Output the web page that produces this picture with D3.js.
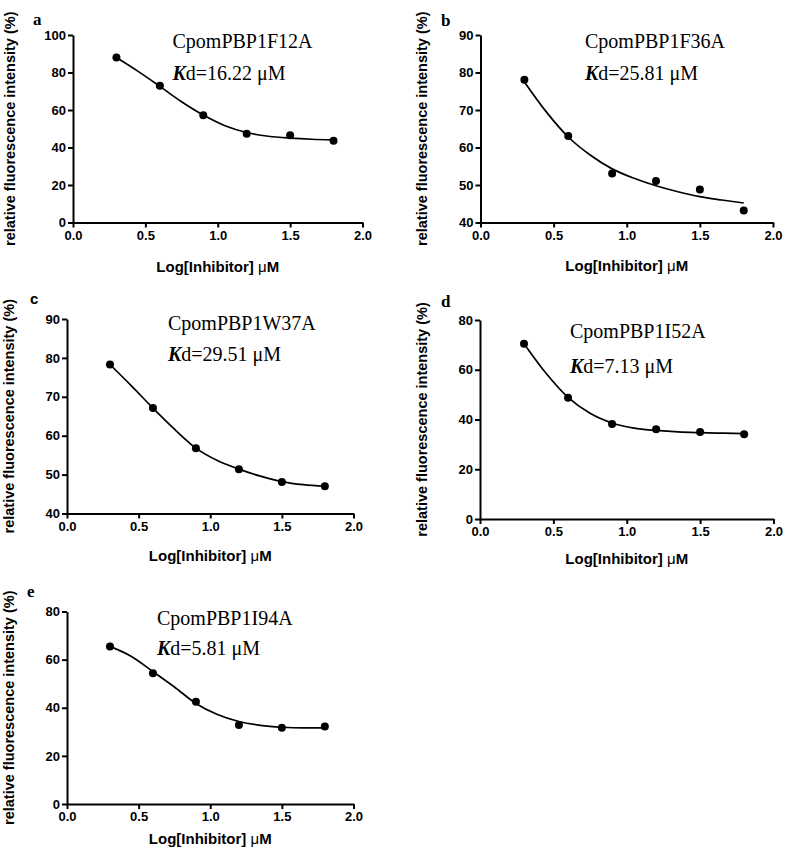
<!DOCTYPE html>
<html>
<head>
<meta charset="utf-8">
<script src="https://cdn.jsdelivr.net/npm/d3@7"></script>
<style>
  html, body { margin: 0; padding: 0; background: #fff; }
  svg { display: block; }
</style>
</head>
<body>
<script>
// ---------------- data ----------------
const doses = [0.3, 0.6, 0.9, 1.2, 1.5, 1.8];
const valuesA = [88.0, 73.0, 57.2, 47.4, 46.5, 43.6];
const valuesB = [78.1, 63.1, 53.1, 51.1, 48.8, 43.2];
const valuesC = [78.3, 67.1, 56.8, 51.4, 48.1, 47.0];
const valuesD = [70.5, 48.7, 38.2, 36.1, 35.0, 34.1];
const valuesE = [65.5, 54.3, 42.5, 32.8, 31.7, 32.2];

// fitted curves
const curveX = [0.3, 0.45, 0.6, 0.75, 0.9, 1.05, 1.2, 1.35, 1.5, 1.65, 1.8];
const curveA = [88.0, 80.6, 72.6, 64.4, 57.3, 51.6, 48.0, 46.0, 45.0, 44.4, 44.1];
const curveB = [77.5, 69.5, 62.8, 58.0, 54.3, 51.8, 49.8, 48.2, 46.9, 46.0, 45.2];
const curveC = [78.3, 72.8, 67.1, 61.7, 56.8, 53.6, 51.4, 49.6, 48.2, 47.4, 47.0];
const curveD = [70.5, 58.6, 48.9, 42.5, 38.6, 36.5, 35.6, 35.0, 34.7, 34.5, 34.3];
const curveE = [65.5, 61.3, 55.0, 48.6, 41.8, 37.2, 34.3, 32.7, 31.9, 31.6, 31.6];

const titles = ["CpomPBP1F12A", "CpomPBP1F36A", "CpomPBP1W37A", "CpomPBP1I52A", "CpomPBP1I94A"];
const kdValues = ["16.22", "25.81", "29.51", "7.13", "5.81"];
const panelLetters = ["a", "b", "c", "d", "e"];
const yDomains = [[0, 100], [40, 90], [40, 90], [0, 80], [0, 80]];
const yTickValues = [
  [0, 20, 40, 60, 80, 100],
  [40, 50, 60, 70, 80, 90],
  [40, 50, 60, 70, 80, 90],
  [0, 20, 40, 60, 80],
  [0, 20, 40, 60, 80]
];
const xTickValues = [0.0, 0.5, 1.0, 1.5, 2.0];
const xLabel = "Log[Inhibitor] ";
const yLabel = "relative fluorescence intensity (%)";

const seriesValues = [valuesA, valuesB, valuesC, valuesD, valuesE];
const seriesCurves = [curveA, curveB, curveC, curveD, curveE];

// ---------------- layout ----------------
const layout = [
  { x0: 73,    x1: 362.5, yTop: 35,    yBot: 222.5, xlabOff: 49, title: [172.5, 48],  kd: [172.5, 80],  letter: [33, 25],   letterFont: "serif-bold", ylab: 15 },
  { x0: 480.5, x1: 773,   yTop: 35,    yBot: 222.5, xlabOff: 48, title: [585, 48],    kd: [585, 80],    letter: [441, 26],  letterFont: "serif-bold", ylab: 427 },
  { x0: 67,    x1: 353.5, yTop: 319,   yBot: 513.5, xlabOff: 47, title: [168, 330],   kd: [168, 361],   letter: [30, 304],  letterFont: "sans-bold",  ylab: 14 },
  { x0: 480,   x1: 773.5, yTop: 320,   yBot: 519,   xlabOff: 45, title: [570, 338],   kd: [570, 373],   letter: [441, 307], letterFont: "serif-bold", ylab: 427 },
  { x0: 67,    x1: 353.5, yTop: 611.5, yBot: 804,   xlabOff: 40, title: [157, 625],   kd: [157, 655],   letter: [27, 597],  letterFont: "serif-bold", ylab: 14 }
];

const SANS = "'Liberation Sans', Arial, Helvetica, sans-serif";
const SERIF = "'Liberation Serif', 'Times New Roman', Times, serif";

const svg = d3.select("body").append("svg")
  .attr("width", 787).attr("height", 853)
  .attr("viewBox", "0 0 787 853");
svg.append("rect").attr("width", 787).attr("height", 853).attr("fill", "#fff");

layout.forEach((L, i) => {
  const g = svg.append("g");
  const x = d3.scaleLinear().domain([0, 2]).range([L.x0, L.x1]);
  const y = d3.scaleLinear().domain(yDomains[i]).range([L.yBot, L.yTop]);

  // x axis
  const xAxis = d3.axisBottom(x).tickValues(xTickValues).tickFormat(d3.format(".1f"))
    .tickSizeInner(5).tickSizeOuter(0).tickPadding(3);
  const gx = g.append("g").attr("transform", `translate(0,${L.yBot})`).call(xAxis);
  // y axis
  const yAxis = d3.axisLeft(y).tickValues(yTickValues[i]).tickFormat(d3.format("d"))
    .tickSizeInner(5).tickSizeOuter(0).tickPadding(2);
  const gy = g.append("g").attr("transform", `translate(${L.x0},0)`).call(yAxis);

  [gx, gy].forEach(a => {
    a.select(".domain").attr("stroke", "#000").attr("stroke-width", 2);
    a.selectAll(".tick line").attr("stroke", "#000").attr("stroke-width", 2);
    a.selectAll(".tick text").attr("fill", "#000")
      .style("font-family", SANS).style("font-weight", "bold").style("font-size", "13px");
  });

  // fitted curve
  const line = d3.line().x(d => x(d[0])).y(d => y(d[1])).curve(d3.curveMonotoneX);
  g.append("path")
    .datum(curveX.map((cx, k) => [cx, seriesCurves[i][k]]))
    .attr("d", line).attr("fill", "none").attr("stroke", "#000").attr("stroke-width", 1.7);

  // points
  g.selectAll("circle.pt").data(doses.map((d, k) => [d, seriesValues[i][k]]))
    .enter().append("circle").attr("class", "pt")
    .attr("cx", d => x(d[0])).attr("cy", d => y(d[1])).attr("r", 4).attr("fill", "#000");

  // x label
  const xl = g.append("text")
    .attr("x", (L.x0 + L.x1) / 2).attr("y", L.yBot + L.xlabOff)
    .attr("text-anchor", "middle")
    .style("font-family", SANS).style("font-weight", "bold").style("font-size", "15px")
    .attr("fill", "#000");
  xl.append("tspan").text(xLabel);
  xl.append("tspan").style("font-weight", "normal").text("\u03BC");
  xl.append("tspan").text("M");

  // y label
  g.append("text")
    .attr("transform", `translate(${L.ylab},${(L.yTop + L.yBot) / 2}) rotate(-90)`)
    .attr("text-anchor", "middle")
    .style("font-family", SANS).style("font-weight", "bold").style("font-size", "14.5px")
    .attr("fill", "#000")
    .text(yLabel);

  // title
  g.append("text")
    .attr("x", L.title[0]).attr("y", L.title[1])
    .style("font-family", SERIF).style("font-size", "20px").attr("fill", "#000")
    .text(titles[i]);

  // Kd
  const kd = g.append("text")
    .attr("x", L.kd[0]).attr("y", L.kd[1])
    .style("font-family", SERIF).style("font-size", "20px").attr("fill", "#000");
  kd.append("tspan").style("font-style", "italic").style("font-weight", "bold").text("K");
  kd.append("tspan").text("d=" + kdValues[i] + " \u03BCM");

  // panel letter
  g.append("text")
    .attr("x", L.letter[0]).attr("y", L.letter[1])
    .style("font-family", L.letterFont === "sans-bold" ? SANS : SERIF)
    .style("font-weight", "bold")
    .style("font-size", L.letterFont === "sans-bold" ? "15px" : "17px")
    .attr("fill", "#000")
    .text(panelLetters[i]);
});
</script>
</body>
</html>
